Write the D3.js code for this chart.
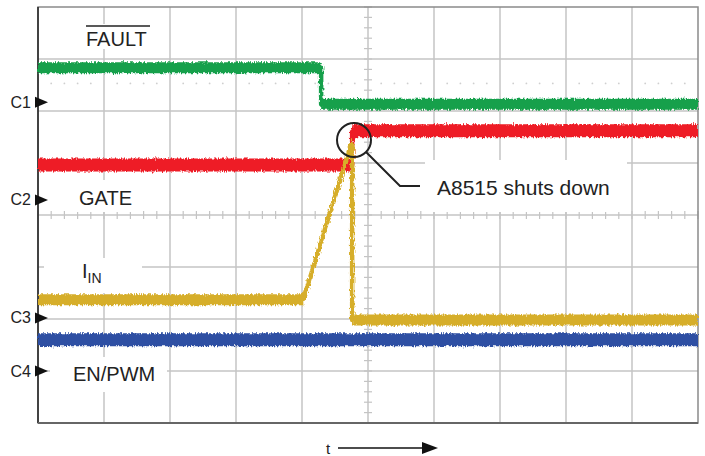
<!DOCTYPE html>
<html><head><meta charset="utf-8">
<script src="https://cdn.jsdelivr.net/npm/d3@7"></script>
<style>html,body{margin:0;padding:0;background:#fff}svg{display:block}text{font-family:"Liberation Sans",Arial,sans-serif}</style>
</head><body>
<svg id="c" width="705" height="456"></svg>
<script>
// ---- data (time in divisions, level in divisions from bottom) ----
const channelNames = ["C1", "C2", "C3", "C4"];
const channelLevels = [6.17, 4.29, 2.02, 1.0];
const faultT = [0, 4.29, 4.29, 10];
const faultV = [6.83, 6.83, 6.13, 6.13];
const gateT = [0, 4.76, 4.76, 10];
const gateV = [4.96, 4.96, 5.62, 5.62];
const iinT = [0, 4.02, 4.74, 4.76, 4.76, 10];
const iinV = [2.37, 2.37, 5.35, 5.35, 1.98, 1.98];
const enT = [0, 10];
const enV = [1.6, 1.6];
const xDivs = d3.range(0, 11);
const yDivs = d3.range(0, 9);

const svg = d3.select("#c");
const L = 38, R = 698, T = 7, B = 423;
const x = d3.scaleLinear().domain([0, 10]).range([L, R]);
const y = d3.scaleLinear().domain([0, 8]).range([B, T]);

const defs = svg.append("defs");
const f = defs.append("filter").attr("id", "noise").attr("x", "-1%").attr("y", "-20%").attr("width", "102%").attr("height", "140%");
f.append("feTurbulence").attr("type", "fractalNoise").attr("baseFrequency", "0.9 0.25").attr("numOctaves", 2).attr("seed", 3).attr("result", "t");
f.append("feDisplacementMap").attr("in", "SourceGraphic").attr("in2", "t").attr("scale", 5).attr("xChannelSelector", "R").attr("yChannelSelector", "G");

// grid
const grid = svg.append("g");
grid.selectAll("line.v").data(xDivs.slice(1, -1)).enter().append("line")
  .attr("x1", d => x(d)).attr("x2", d => x(d)).attr("y1", T).attr("y2", B)
  .attr("stroke", "#c4c4c4").attr("stroke-width", 1.5);
grid.selectAll("line.h").data(yDivs.slice(1, -1)).enter().append("line")
  .attr("y1", d => y(d)).attr("y2", d => y(d)).attr("x1", L).attr("x2", R)
  .attr("stroke", "#c4c4c4").attr("stroke-width", 1.5);
// minor ticks on centre axes
const xMinor = d3.range(0, 10.01, 0.2);
const yMinor = d3.range(0, 8.01, 0.2);
grid.selectAll("line.mx").data(xMinor).enter().append("line")
  .attr("x1", d => x(d)).attr("x2", d => x(d)).attr("y1", y(4) - 4).attr("y2", y(4) + 4)
  .attr("stroke", "#c4c4c4").attr("stroke-width", 1.2);
grid.selectAll("line.my").data(yMinor).enter().append("line")
  .attr("y1", d => y(d)).attr("y2", d => y(d)).attr("x1", x(5) - 4).attr("x2", x(5) + 4)
  .attr("stroke", "#c4c4c4").attr("stroke-width", 1.2);
grid.selectAll("circle.dot").data(xMinor.filter((d, i) => i % 5 !== 0)).enter().append("circle")
  .attr("cx", d => x(d)).attr("cy", y(6.53)).attr("r", 0.9).attr("fill", "#cfcfcf");

// white label boxes hiding grid
const boxes = [[84, 24, 68, 25], [75, 180, 66, 32], [44, 258, 98, 35], [50, 357, 117, 35], [425, 160, 202, 52]];
svg.append("g").selectAll("rect").data(boxes).enter().append("rect")
  .attr("x", d => d[0]).attr("y", d => d[1]).attr("width", d => d[2]).attr("height", d => d[3]).attr("fill", "#fff");

// border
svg.append("rect").attr("x", L).attr("y", T).attr("width", R - L).attr("height", B - T)
  .attr("fill", "none").attr("stroke", "#8a8a8a").attr("stroke-width", 1.5);
svg.append("line").attr("x1", L).attr("x2", L).attr("y1", T).attr("y2", B).attr("stroke", "#222").attr("stroke-width", 1.5);
svg.append("line").attr("x1", L).attr("x2", R).attr("y1", B).attr("y2", B).attr("stroke", "#666").attr("stroke-width", 2);

// traces
const traces = [
  {t: faultT, v: faultV, c: "#17a04b", w: 11},
  {t: gateT, v: gateV, c: "#ee1c25", w: 13},
  {t: iinT, v: iinV, c: "#d6ae2b", w: 11},
  {t: enT, v: enV, c: "#2f4fa3", w: 13}
];
const tg = svg.append("g").attr("filter", "url(#noise)");
traces.forEach(tr => {
  const pts = tr.t.map((t, i) => [x(t), y(tr.v[i])]);
  tg.append("path").attr("d", d3.line()(pts)).attr("fill", "none")
    .attr("stroke", tr.c).attr("stroke-width", 4.5).attr("stroke-linejoin", "round");
  const segs = d3.pairs(pts).filter(p => p[0][1] === p[1][1]);
  tg.selectAll(null).data(segs).enter().append("line")
    .attr("x1", d => d[0][0]).attr("x2", d => d[1][0]).attr("y1", d => d[0][1]).attr("y2", d => d[1][1])
    .attr("stroke", tr.c).attr("stroke-width", tr.w);
});

// channel markers
const cm = svg.append("g");
channelNames.forEach((n, i) => {
  const yy = y(channelLevels[i]);
  cm.append("path").attr("d", `M35,${yy - 5.5}L48,${yy}L35,${yy + 5.5}Z`).attr("fill", "#111");
  cm.append("text").attr("x", 31).attr("y", yy + 5.5).attr("text-anchor", "end").attr("font-size", 16).attr("fill", "#222").text(n);
});

// labels
const lab = svg.append("g").attr("fill", "#222").attr("font-size", 20);
lab.append("text").attr("x", 86).attr("y", 46).text("FAULT");
lab.append("line").attr("x1", 86).attr("x2", 150).attr("y1", 26).attr("y2", 26).attr("stroke", "#222").attr("stroke-width", 1.3);
lab.append("text").attr("x", 79).attr("y", 205).text("GATE");
const iin = lab.append("text").attr("x", 82).attr("y", 278);
iin.append("tspan").text("I");
iin.append("tspan").attr("font-size", 14).attr("dy", 5).text("IN");
lab.append("text").attr("x", 73).attr("y", 381).text("EN/PWM");
lab.append("text").attr("x", 437).attr("y", 195).attr("font-size", 21).text("A8515 shuts down");

// annotation circle + leader
svg.append("circle").attr("cx", 354).attr("cy", 140).attr("r", 17).attr("fill", "none").attr("stroke", "#222").attr("stroke-width", 2);
svg.append("path").attr("d", "M366,152L400,186L420,186").attr("fill", "none").attr("stroke", "#222").attr("stroke-width", 2);

// time arrow
svg.append("text").attr("x", 326).attr("y", 454).attr("font-size", 15).attr("fill", "#222").text("t");
svg.append("line").attr("x1", 338).attr("x2", 424).attr("y1", 448).attr("y2", 448).attr("stroke", "#111").attr("stroke-width", 1.5);
svg.append("path").attr("d", "M422,442L438,448L422,454Z").attr("fill", "#111");
</script>
</body></html>
